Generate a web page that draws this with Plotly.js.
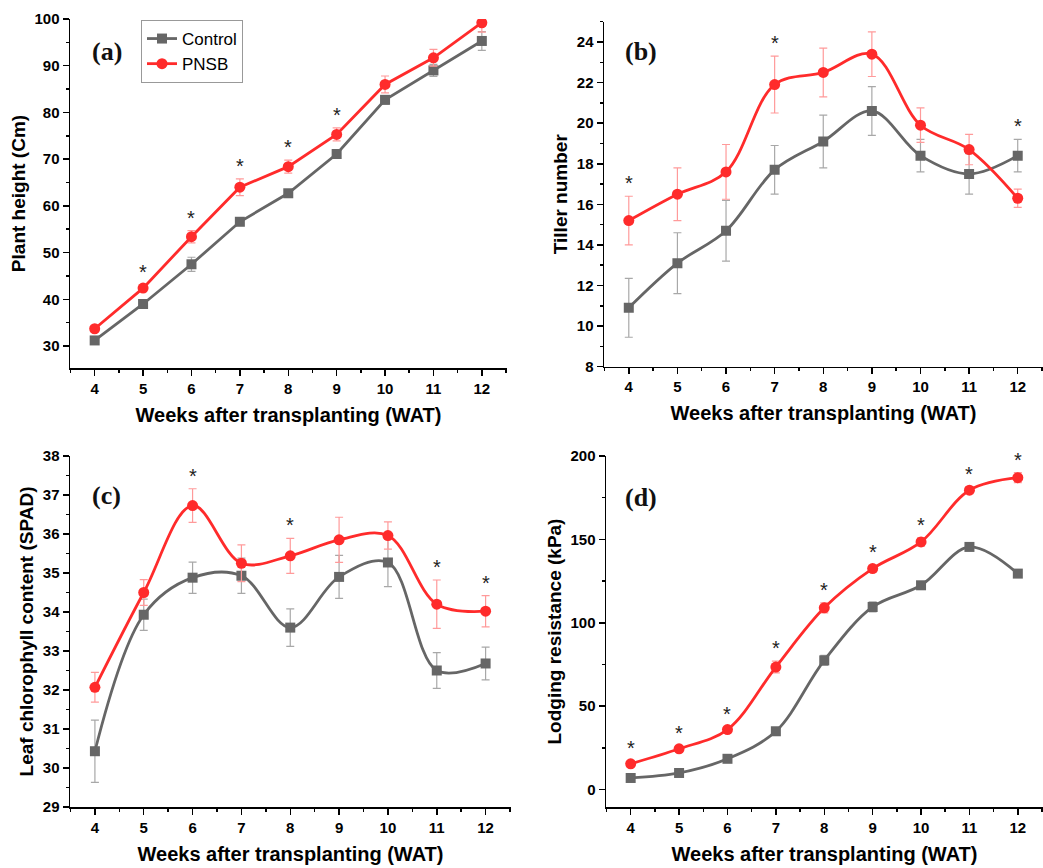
<!DOCTYPE html>
<html>
<head>
<meta charset="utf-8">
<script src="https://cdn.plot.ly/plotly-3.0.1.min.js"></script>
<style>html,body{margin:0;padding:0;background:#fff;}#chart{width:1043px;height:868px;}</style>
</head>
<body>
<div id="chart"></div>
<script>
const weeks = [4, 5, 6, 7, 8, 9, 10, 11, 12];

// (a) Plant height (cm)
const heightCtrl    = [31.2, 39.0, 47.5, 56.6, 62.7, 71.1, 82.7, 89.0, 95.3];
const heightCtrlErr = [0.5, 0.7, 1.5, 0.8, 0.8, 0.8, 0.9, 1.3, 2.0];
const heightPnsb    = [33.7, 42.4, 53.4, 64.0, 68.4, 75.3, 86.0, 91.7, 99.2];
const heightPnsbErr = [0.5, 0.6, 1.3, 1.8, 1.4, 1.4, 1.8, 1.8, 2.0];
const heightSig     = [0, 1, 1, 1, 1, 1, 0, 0, 0];

// (b) Tiller number
const tillerCtrl    = [10.9, 13.1, 14.7, 17.7, 19.1, 20.6, 18.4, 17.5, 18.4];
const tillerCtrlErr = [1.45, 1.5, 1.5, 1.2, 1.3, 1.2, 0.8, 1.0, 0.8];
const tillerPnsb    = [15.2, 16.5, 17.6, 21.9, 22.5, 23.4, 19.9, 18.7, 16.3];
const tillerPnsbErr = [1.2, 1.3, 1.35, 1.4, 1.2, 1.1, 0.85, 0.75, 0.45];
const tillerSig     = [1, 0, 0, 1, 0, 0, 0, 0, 1];

// (c) Leaf chlorophyll content (SPAD)
const chloroCtrl    = [30.43, 33.93, 34.88, 34.93, 33.60, 34.90, 35.27, 32.50, 32.68];
const chloroCtrlErr = [0.80, 0.40, 0.40, 0.45, 0.48, 0.55, 0.62, 0.46, 0.42];
const chloroPnsb    = [32.07, 34.50, 36.73, 35.25, 35.44, 35.85, 35.96, 34.20, 34.02];
const chloroPnsbErr = [0.38, 0.33, 0.43, 0.47, 0.45, 0.58, 0.35, 0.62, 0.40];
const chloroSig     = [0, 0, 1, 0, 1, 0, 0, 1, 1];

// (d) Lodging resistance (kPa)
const lodgeCtrl     = [7, 10, 18.5, 35, 77.5, 109.5, 122.5, 145.5, 129.5];
const lodgeCtrlErr  = [1, 1, 1.5, 1.5, 3, 3, 1.5, 1.5, 1.5];
const lodgePnsb     = [15.5, 24.5, 36, 73.5, 109, 132.5, 148.5, 179.5, 187];
const lodgePnsbErr  = [1.5, 1.5, 1.5, 3.5, 3, 2, 2.5, 2, 3];
const lodgeSig      = [1, 1, 1, 1, 1, 1, 1, 1, 1];

const seriesNames = ['Control', 'PNSB'];
const panelLabels = ['(a)', '(b)', '(c)', '(d)'];
const yTitles = ['Plant height (Cm)', 'Tiller number', 'Leaf chlorophyll content (SPAD)', 'Lodging resistance (kPa)'];
const xTitle = 'Weeks after transplanting (WAT)';

const GRAY = '#666666', GRAY_ERR = '#a8a8a8';
const RED = '#ff2b2b', RED_ERR = '#ff9a9a';

const panels = [
  {c: heightCtrl, ce: heightCtrlErr, p: heightPnsb, pe: heightPnsbErr, sig: heightSig, shape: 'linear'},
  {c: tillerCtrl, ce: tillerCtrlErr, p: tillerPnsb, pe: tillerPnsbErr, sig: tillerSig, shape: 'spline'},
  {c: chloroCtrl, ce: chloroCtrlErr, p: chloroPnsb, pe: chloroPnsbErr, sig: chloroSig, shape: 'spline'},
  {c: lodgeCtrl, ce: lodgeCtrlErr, p: lodgePnsb, pe: lodgePnsbErr, sig: lodgeSig, shape: 'spline'}
];

const traces = [];
const annotations = [];
panels.forEach((pn, i) => {
  const xa = i === 0 ? 'x' : 'x' + (i + 1);
  const ya = i === 0 ? 'y' : 'y' + (i + 1);
  traces.push({
    x: weeks, y: pn.c, name: seriesNames[0], xaxis: xa, yaxis: ya,
    type: 'scatter', mode: 'lines+markers', showlegend: i === 0,
    line: {color: GRAY, width: 2.8, shape: pn.shape, smoothing: 1},
    marker: {symbol: 'square', size: 10, color: GRAY},
    error_y: {type: 'data', array: pn.ce, visible: true, color: GRAY_ERR, thickness: 1.2, width: 4}
  });
  traces.push({
    x: weeks, y: pn.p, name: seriesNames[1], xaxis: xa, yaxis: ya,
    type: 'scatter', mode: 'lines+markers', showlegend: i === 0,
    line: {color: RED, width: 2.8, shape: pn.shape, smoothing: 1},
    marker: {symbol: 'circle', size: 11, color: RED},
    error_y: {type: 'data', array: pn.pe, visible: true, color: RED_ERR, thickness: 1.2, width: 4}
  });
  weeks.forEach((w, k) => {
    if (!pn.sig[k]) return;
    const top = Math.max(pn.c[k] + pn.ce[k], pn.p[k] + pn.pe[k]);
    annotations.push({
      x: w, y: top, xref: xa, yref: ya, text: '*', showarrow: false,
      yanchor: 'bottom', yshift: 0,
      font: {family: 'Liberation Sans, Arial, sans-serif', size: 20, color: '#222'}
    });
  });
});

const labelPos = [[107, 52], [641, 52], [106, 495], [641, 497]];
panelLabels.forEach((t, i) => {
  annotations.push({
    x: labelPos[i][0] / 1043, y: 1 - labelPos[i][1] / 868, xref: 'paper', yref: 'paper',
    text: t, showarrow: false, xanchor: 'center', yanchor: 'middle',
    font: {family: 'Liberation Serif, serif', size: 26, color: '#111', weight: 'bold'}
  });
});

const tickFont = {family: 'Liberation Sans, Arial, sans-serif', size: 15, color: '#000', weight: 'bold'};
const xTitleFont = {family: 'Liberation Sans, Arial, sans-serif', size: 20, color: '#000', weight: 'bold'};
const yTitleFont = {family: 'Liberation Sans, Arial, sans-serif', size: 19, color: '#000', weight: 'bold'};

function xAxis(domain, anchor) {
  return {
    domain: domain, anchor: anchor, range: [3.49, 12.52], tickmode: 'linear', tick0: 4, dtick: 1,
    showline: true, linecolor: '#000', linewidth: 1.5, ticks: 'outside', ticklen: 6, tickwidth: 1.5, tickcolor: '#000',
    minor: {ticks: 'outside', dtick: 0.5, tick0: 4, ticklen: 3, tickwidth: 1.5, tickcolor: '#000'},
    showgrid: false, zeroline: false, tickfont: tickFont,
    title: {text: xTitle, font: xTitleFont, standoff: 12}
  };
}
function yAxis(domain, anchor, range, dtick, minorDtick, title) {
  return {
    domain: domain, anchor: anchor, range: range, tickmode: 'linear', tick0: 0, dtick: dtick,
    showline: true, linecolor: '#000', linewidth: 1.5, ticks: 'outside', ticklen: 6, tickwidth: 1.5, tickcolor: '#000',
    minor: {ticks: 'outside', dtick: minorDtick, tick0: 0, ticklen: 3, tickwidth: 1.5, tickcolor: '#000'},
    showgrid: false, zeroline: false, tickfont: tickFont,
    title: {text: title, font: yTitleFont, standoff: 4}
  };
}

const W = 1043, H = 868;
const layout = {
  width: W, height: H, margin: {l: 0, r: 0, t: 0, b: 0},
  paper_bgcolor: '#fff', plot_bgcolor: '#fff', showlegend: true,
  xaxis:  xAxis([70 / W, 507 / W], 'y'),
  yaxis:  yAxis([1 - 368 / H, 1 - 19 / H], 'x', [25.3, 100], 10, 5, yTitles[0]),
  xaxis2: xAxis([604 / W, 1], 'y2'),
  yaxis2: yAxis([1 - 366.7 / H, 1 - 21.7 / H], 'x2', [8, 25], 2, 1, yTitles[1]),
  xaxis3: xAxis([70 / W, 511 / W], 'y3'),
  yaxis3: yAxis([1 - 807 / H, 1 - 456 / H], 'x3', [29, 38], 1, 0.5, yTitles[2]),
  xaxis4: xAxis([606 / W, 1], 'y4'),
  yaxis4: yAxis([1 - 807 / H, 1 - 456 / H], 'x4', [-10.4, 200], 50, 25, yTitles[3]),
  legend: {
    x: 141 / W, y: 1 - 20 / H, xanchor: 'left', yanchor: 'top',
    bgcolor: '#fff', bordercolor: '#999', borderwidth: 1,
    font: {family: 'Liberation Sans, Arial, sans-serif', size: 17, color: '#000'},
    tracegroupgap: 0
  },
  annotations: annotations
};

Plotly.newPlot('chart', traces, layout, {displayModeBar: false, staticPlot: true});
</script>
</body>
</html>
